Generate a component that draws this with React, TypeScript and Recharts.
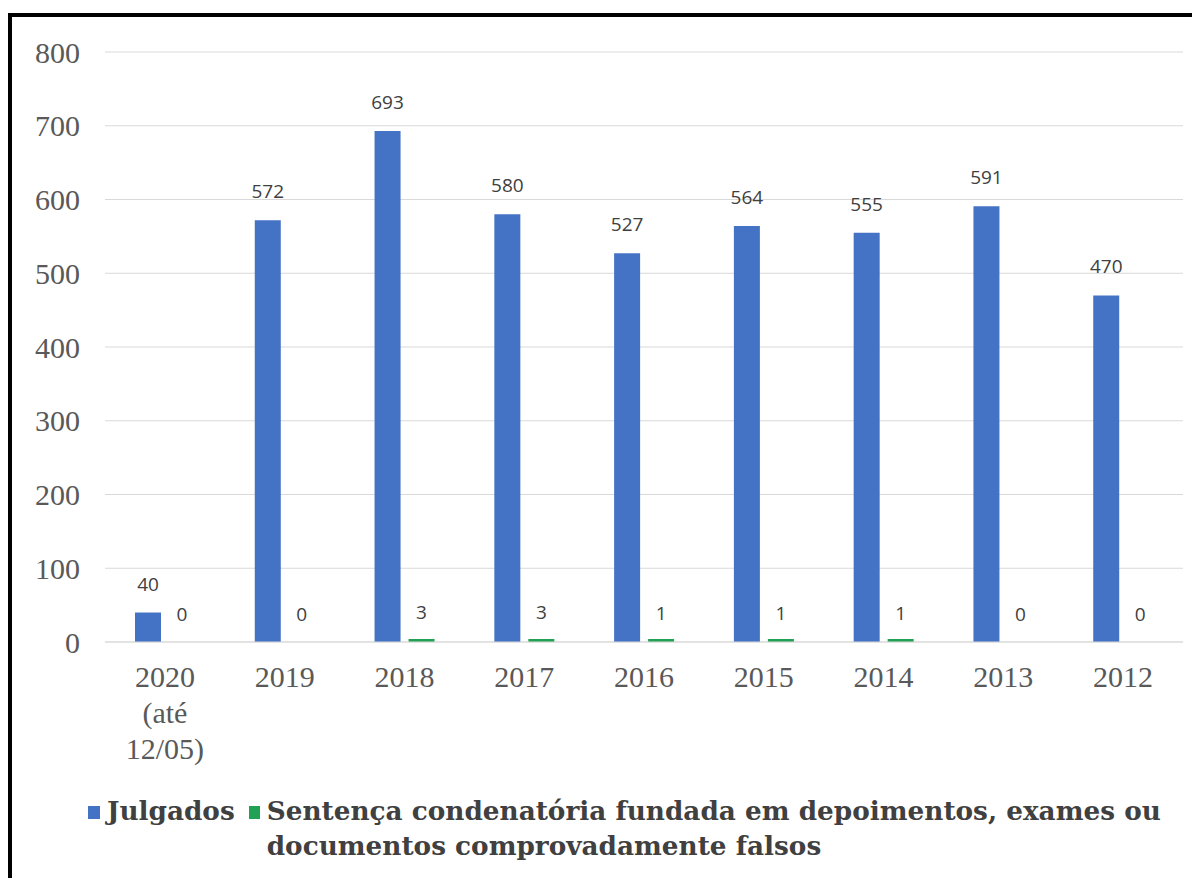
import React from 'react';
import { BarChart, Bar, XAxis, YAxis, CartesianGrid, LabelList } from 'recharts';

const categories = ['2020\n(até\n12/05)', '2019', '2018', '2017', '2016', '2015', '2014', '2013', '2012'];
const julgados = [40, 572, 693, 580, 527, 564, 555, 591, 470];
const sentencas = [0, 0, 3, 3, 1, 1, 1, 0, 0];
const yTicks = [0, 100, 200, 300, 400, 500, 600, 700, 800];

const BLUE = '#4472C4';
const GREEN = '#21A153';
const TICK_FONT = '"Liberation Serif", serif';
const LABEL_FONT = '"Open Sans", sans-serif';
const BAR_GAP = 8;

const data = categories.map((c, i) => ({ year: c, julgados: julgados[i], sentenca: sentencas[i] }));

const YearTick = ({ x, y, payload }: any) => {
  const lines = String(payload.value).split('\n');
  return (
    <text x={x} y={y} textAnchor="middle" fill="#595959" fontFamily={TICK_FONT} fontSize={30}>
      {lines.map((l, i) => (
        <tspan key={i} x={x} dy={i === 0 ? 45 : 36}>{l}</tspan>
      ))}
    </text>
  );
};

// Recharts skips labels on zero-height bars, so the green labels are placed
// from the blue bar geometry (same scale: height per unit = height / value).
const SentencaLabel = ({ x, y, width, height, index }: any) => {
  const v = sentencas[index];
  const base = y + height;
  const top = base - (v / julgados[index]) * height;
  return (
    <text
      x={x + width + BAR_GAP + width / 2}
      y={top - 21}
      textAnchor="middle"
      fill="#404040"
      fontSize={19}
      fontFamily={LABEL_FONT}
    >
      {v}
    </text>
  );
};

const App = () => {
  return (
    <div style={{ position: 'relative', width: 1192, height: 870 }}>
      {/* black frame, only top and left edges visible */}
      <div
        style={{
          position: 'absolute',
          left: 0,
          top: 5,
          width: 1188,
          height: 861,
          borderTop: '4px solid #000',
          borderLeft: '4px solid #000',
        }}
      />
      <div style={{ position: 'absolute', left: 0, top: 0 }}>
        <BarChart
          width={1192}
          height={760}
          data={data}
          margin={{ top: 44, right: 17, left: 0, bottom: 0 }}
          barSize={26}
          barGap={BAR_GAP}
        >
          <CartesianGrid vertical={false} stroke="#d9d9d9" />
          <XAxis
            dataKey="year"
            interval={0}
            height={126}
            tickSize={0}
            tickMargin={0}
            axisLine={{ stroke: '#d9d9d9' }}
            tickLine={false}
            tick={<YearTick />}
          />
          <YAxis
            domain={[0, 800]}
            ticks={yTicks}
            interval={0}
            width={97}
            axisLine={false}
            tickLine={false}
            tickSize={0}
            tickMargin={25}
            tick={{ fill: '#595959', fontFamily: TICK_FONT, fontSize: 30 }}
          />
          <Bar dataKey="julgados" fill={BLUE} isAnimationActive={false}>
            <LabelList dataKey="julgados" position="top" offset={22} fill="#404040" fontSize={19} fontFamily={LABEL_FONT} />
            <LabelList dataKey="sentenca" content={<SentencaLabel />} />
          </Bar>
          <Bar
            dataKey="sentenca"
            fill={GREEN}
            isAnimationActive={false}
            minPointSize={(v: number) => (v > 0 ? 3 : 0)}
          />
        </BarChart>
      </div>
      {/* legend */}
      <div
        style={{
          position: 'absolute',
          left: 80,
          top: 785,
          display: 'flex',
          alignItems: 'flex-start',
          fontFamily: '"DejaVu Serif", serif',
          fontWeight: 'bold',
          fontSize: 26.3,
          lineHeight: '35px',
          color: '#404040',
        }}
      >
        <span style={{ width: 12, height: 13, background: BLUE, marginTop: 13, marginRight: 7 }} />
        <span style={{ whiteSpace: 'nowrap', marginRight: 14 }}>Julgados</span>
        <span style={{ width: 11, height: 13, background: GREEN, marginTop: 13, marginRight: 7, flexShrink: 0 }} />
        <span style={{ whiteSpace: 'nowrap' }}>
          Sentença condenatória fundada em depoimentos, exames ou
          <br />
          documentos comprovadamente falsos
        </span>
      </div>
    </div>
  );
};

export default App;
